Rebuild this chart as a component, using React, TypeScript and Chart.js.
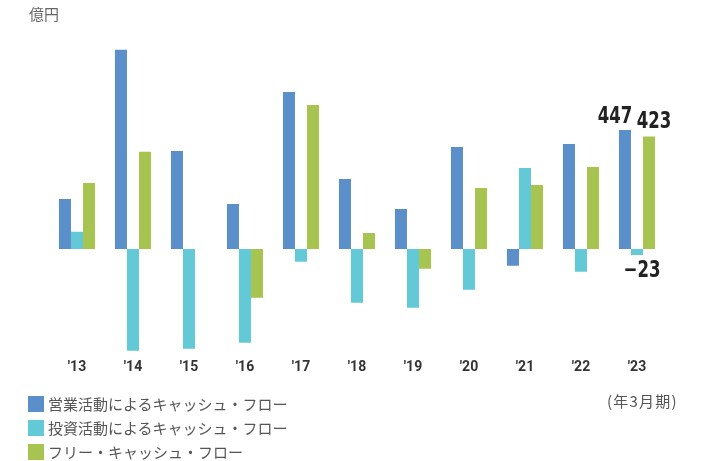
import React, { useEffect, useRef } from "react";
import { Chart, registerables } from "chart.js";

Chart.register(...registerables);

const categories = ["'13", "'14", "'15", "'16", "'17", "'18", "'19", "'20", "'21", "'22", "'23"];
const operatingCF = [188, 748, 368, 169, 590, 263, 150, 383, -63, 394, 447];
const investingCF = [65, -382, -375, -352, -48, -202, -221, -153, 304, -85, -23];
const freeCF = [248, 365, 0, -183, 541, 60, -74, 229, 240, 308, 423];
const seriesNames = [
  "営業活動によるキャッシュ・フロー",
  "投資活動によるキャッシュ・フロー",
  "フリー・キャッシュ・フロー",
];
const seriesColors = ["#5b8fca", "#64c9d7", "#a6c44f"];
const unitLabel = "億円";
const periodLabel = "(年3月期)";

const numFont = "'DejaVu Sans', sans-serif";
const tickFont = "Roboto, 'DejaVu Sans', sans-serif";
const jpFont = "'Noto Sans CJK JP', 'Noto Sans', sans-serif";

function condensedText(ctx: any, text: string, x: number, y: number, sx: number) {
  ctx.save();
  ctx.translate(x, y);
  ctx.scale(sx, 1);
  ctx.fillText(text, 0, 0);
  ctx.restore();
}

const lastLabelPlugin = {
  id: "lastLabels",
  afterDatasetsDraw(chart: any) {
    const ctx = chart.ctx;
    const idx = categories.length - 1;
    ctx.save();
    ctx.fillStyle = "#222";
    ctx.font = `bold 23px ${numFont}`;
    ctx.textAlign = "center";
    const b0 = chart.getDatasetMeta(0).data[idx];
    const b1 = chart.getDatasetMeta(1).data[idx];
    const b2 = chart.getDatasetMeta(2).data[idx];
    ctx.textBaseline = "alphabetic";
    condensedText(ctx, String(operatingCF[idx]), b0.x - 10, b0.y - 7, 0.72);
    condensedText(ctx, String(freeCF[idx]), b2.x + 5, b2.y - 8, 0.72);
    condensedText(ctx, "\u2212" + String(Math.abs(investingCF[idx])), b1.x + 5, b1.y + 22, 0.72);
    ctx.restore();
  },
};

export default function App() {
  const ref = useRef<HTMLCanvasElement>(null);
  useEffect(() => {
    if (!ref.current) return;
    const chart = new Chart(ref.current, {
      type: "bar",
      data: {
        labels: categories,
        datasets: [operatingCF, investingCF, freeCF].map((d, i) => ({
          label: seriesNames[i],
          data: d,
          backgroundColor: seriesColors[i],
          borderWidth: 0,
          barPercentage: 1,
          categoryPercentage: 0.645,
        })),
      },
      options: {
        animation: false,
        responsive: true,
        maintainAspectRatio: false,
        layout: { padding: { left: 49, right: 55, top: 36, bottom: 0 } },
        plugins: { legend: { display: false }, tooltip: { enabled: false } },
        scales: {
          x: {
            grid: { display: false, drawTicks: false },
            border: { display: false },
            ticks: {
              color: "#333",
              font: { family: tickFont, size: 14, weight: "bold" },
              padding: 4,
            },
            afterFit: (scale: any) => {
              scale.height = 105.5;
            },
          },
          y: {
            display: false,
            min: -400,
            max: 800,
          },
        },
      },
      plugins: [lastLabelPlugin],
    });
    return () => chart.destroy();
  }, []);

  const textStyle: React.CSSProperties = {
    position: "absolute",
    fontFamily: jpFont,
    fontSize: 15,
    lineHeight: "16px",
    color: "#555",
    whiteSpace: "nowrap",
  };

  return (
    <div style={{ position: "fixed", left: 0, top: 0, width: 720, height: 461, background: "#fff" }}>
      <canvas ref={ref} />
      <span style={{ ...textStyle, left: 29, top: 6, color: "#666" }}>{unitLabel}</span>
      <span style={{ ...textStyle, left: 607, top: 393, letterSpacing: "1.2px" }}>{periodLabel}</span>
      {seriesNames.map((n, i) => (
        <div key={n} style={{ ...textStyle, left: 28, top: 396 + i * 24, display: "flex", alignItems: "center" }}>
          <span style={{ display: "inline-block", width: 16, height: 16, background: seriesColors[i], marginRight: 4 }} />
          <span>{n}</span>
        </div>
      ))}
    </div>
  );
}
